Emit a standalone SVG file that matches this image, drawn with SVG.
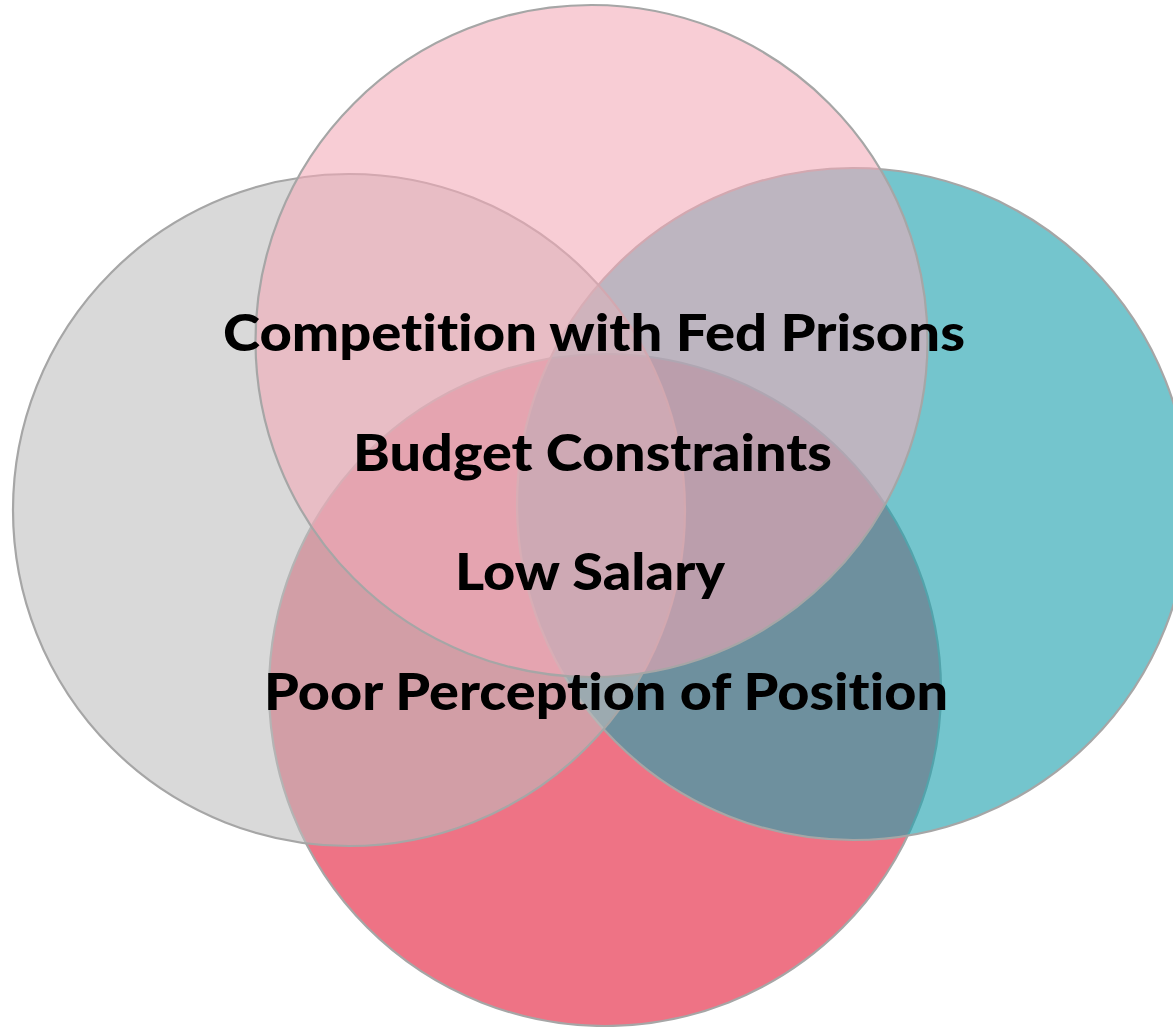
<svg xmlns="http://www.w3.org/2000/svg" width="1173" height="1027" viewBox="0 0 1173 1027">
  <style>
    .c { stroke: #A6A6A6; stroke-width: 2.2; }
    .t { font-family: Lato, "Open Sans", "Liberation Sans", sans-serif; font-weight: 900; font-size: 52px; fill: #000000; font-variant-ligatures: none; font-feature-settings: "liga" 0, "clig" 0; }
  </style>
  <rect width="1173" height="1027" fill="#FFFFFF"/>
  <g id="circle-red"><circle class="c" cx="605" cy="690" r="336" fill="#EE7385"/></g>
  <g id="circle-teal"><circle class="c" cx="853" cy="504" r="336" fill="#1FA1AE" fill-opacity="0.62"/></g>
  <g id="circle-gray"><circle class="c" cx="349" cy="510" r="336" fill="#BEBEBE" fill-opacity="0.58"/></g>
  <g id="circle-pink"><circle class="c" cx="591.5" cy="341" r="336" fill="#F3A9B7" fill-opacity="0.58"/></g>
  <g id="labels">
    <text class="t" x="223" y="351" textLength="742" lengthAdjust="spacingAndGlyphs">Competition with Fed Prisons</text>
    <text class="t" x="353" y="471" textLength="479" lengthAdjust="spacingAndGlyphs">Budget Constraints</text>
    <text class="t" x="455" y="590" textLength="270" lengthAdjust="spacingAndGlyphs">Low Salary</text>
    <text class="t" x="264" y="710" textLength="684" lengthAdjust="spacingAndGlyphs">Poor Perception of Position</text>
  </g>
</svg>
